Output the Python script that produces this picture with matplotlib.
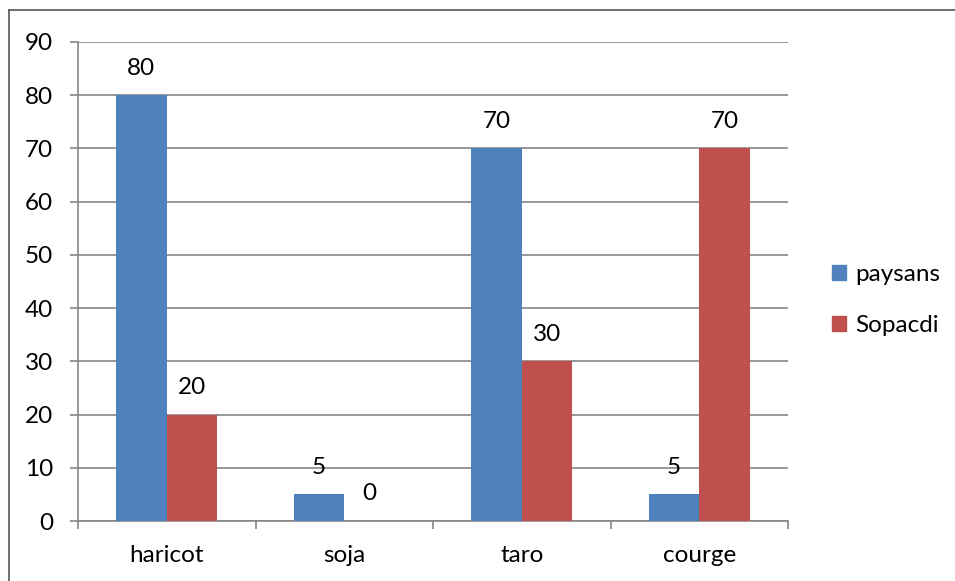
import matplotlib
matplotlib.use("Agg")
import matplotlib.pyplot as plt
from matplotlib.lines import Line2D
from matplotlib.patches import Patch
import numpy as np

categories = ["haricot", "soja", "taro", "courge"]
paysans = [80, 5, 70, 5]
sopacdi = [20, 0, 30, 70]
series_names = ["paysans", "Sopacdi"]
yticks = [0, 10, 20, 30, 40, 50, 60, 70, 80, 90]

BLUE = "#4F81BD"
RED = "#C0504D"
GRID = "#868686"
FS = 17.5

plt.rcParams["font.family"] = ["Lato", "DejaVu Sans"]

W, H = 955, 581
fig = plt.figure(figsize=(W / 100, H / 100), dpi=100)

# axes box in pixel coordinates: left 78, right 788, top 42, bottom 521
L, R, T, B = 78, 788, 42, 521
ax = fig.add_axes([L / W, 1 - B / H, (R - L) / W, (B - T) / H])

x = np.arange(len(categories))
bw = 1 / 3.5
ax.bar(x - bw / 2, paysans, width=bw, color=BLUE, label=series_names[0], zorder=3)
ax.bar(x + bw / 2, sopacdi, width=bw, color=RED, label=series_names[1], zorder=3)

for xi, v in zip(x - bw / 2, paysans):
    ax.annotate(str(v), (xi, v), xytext=(0, 27), textcoords="offset pixels",
                ha="center", va="center", fontsize=FS, color="black", zorder=4)
for xi, v in zip(x + bw / 2, sopacdi):
    ax.annotate(str(v), (xi, v), xytext=(0, 27), textcoords="offset pixels",
                ha="center", va="center", fontsize=FS, color="black", zorder=4)

ax.set_xlim(-0.5, len(categories) - 0.5)
ax.set_ylim(0, 90)
ax.set_yticks(yticks)
ax.set_yticklabels([str(t) for t in yticks], fontsize=FS)
ax.yaxis.grid(True, color=GRID, linewidth=1.2, zorder=0)
ax.set_axisbelow(True)

ax.set_xticks(x)
ax.set_xticklabels(categories, fontsize=FS)
ax.tick_params(axis="x", length=0, pad=17)
ax.set_xticks(np.arange(len(categories) + 1) - 0.5, minor=True)
ax.tick_params(axis="x", which="minor", length=6, width=1.2, color=GRID)
ax.tick_params(axis="y", length=6, width=1.2, color=GRID, pad=12)

for s in ["top", "right"]:
    ax.spines[s].set_visible(False)
for s in ["left", "bottom"]:
    ax.spines[s].set_color(GRID)
    ax.spines[s].set_linewidth(1.2)

handles = [Patch(color=BLUE), Patch(color=RED)]
fig.legend(handles, series_names, loc="center left",
           bbox_to_anchor=(810 / W, 1 - 300 / H), frameon=False,
           fontsize=FS, handlelength=0.58, handleheight=0.58,
           handletextpad=0.4, labelspacing=1.25)

# outer chart frame
fig.add_artist(Line2D([9 / W, 9 / W], [0, 1 - 10 / H], transform=fig.transFigure,
                      color="#555555", linewidth=1.2))
fig.add_artist(Line2D([9 / W, 1], [1 - 10 / H, 1 - 10 / H], transform=fig.transFigure,
                      color="#555555", linewidth=1.2))

fig.savefig("out.png", dpi=100)
